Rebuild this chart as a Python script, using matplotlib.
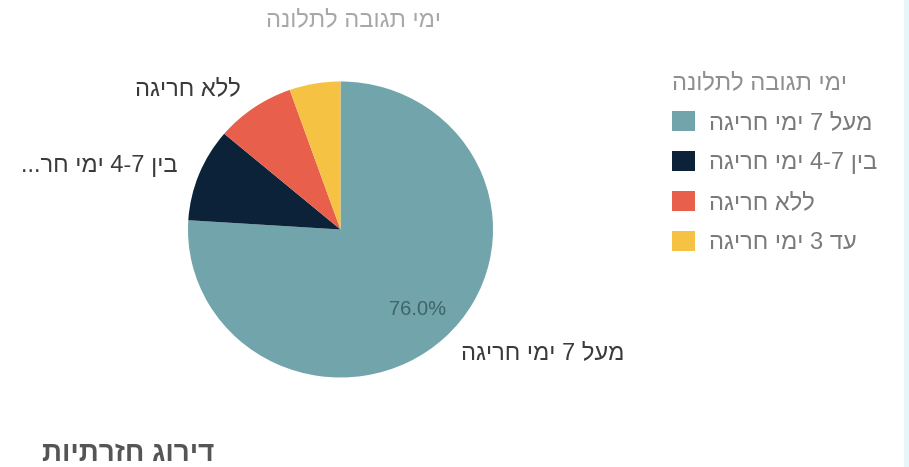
import re
import matplotlib
matplotlib.use("Agg")
import matplotlib.pyplot as plt
from matplotlib.patches import Rectangle

plt.rcParams['font.family'] = ['Liberation Sans', 'DejaVu Sans']

# ---- data ----
chart_title = "ימי תגובה לתלונה"
categories = ["מעל 7 ימי חריגה", "בין 4-7 ימי חריגה", "ללא חריגה", "עד 3 ימי חריגה"]
slice_labels = ["מעל 7 ימי חריגה", "בין 4-7 ימי חר...", "ללא חריגה", ""]
values = [76.0, 10.2, 8.4, 5.4]
colors = ["#72A5AB", "#0B2239", "#E8604C", "#F6C244"]
section_title = "דירוג חזרתיות"


def visual(s):
    """Convert logical-order Hebrew text to visual (LTR) order for rendering."""
    parts = re.findall(r'[0-9][0-9\-.%]*|[^0-9]+', s)
    out = []
    for p in reversed(parts):
        out.append(p if p[0].isdigit() else p[::-1])
    return ''.join(out)


W, H = 909, 467
fig = plt.figure(figsize=(W / 100, H / 100), dpi=100)
fig.patch.set_facecolor("white")

# pie axes placed in pixel terms
cx, cy = 340.5, 229.5
rx, ry = 152.5, 148.0
L = 1.6
aw, ah = 2 * L * rx, 2 * L * ry
ax = fig.add_axes([(cx - aw / 2) / W, (H - cy - ah / 2) / H, aw / W, ah / H])


def pct_fmt(p):
    return f"{p:.1f}%" if p > 50 else ""


wedges, texts, autotexts = ax.pie(
    values,
    labels=[visual(s) for s in slice_labels],
    colors=colors,
    startangle=90,
    counterclock=False,
    autopct=pct_fmt,
    pctdistance=0.74,
    labeldistance=1.15,
    wedgeprops=dict(linewidth=0),
    textprops=dict(fontsize=17, color="#3a3a3a"),
)
for t in autotexts:
    t.set_color("#3F6469")
    t.set_fontsize(14.5)
ax.set_xlim(-L, L)
ax.set_ylim(-L, L)
ax.set_aspect('auto')
ax.axis('off')

# chart title
fig.text(353 / W, 1 - 20 / H, visual(chart_title), ha='center', va='center',
         fontsize=17, color="#a8a8a8")

# legend
leg = fig.legend(
    wedges, [visual(c) for c in categories],
    loc='upper left', bbox_to_anchor=(672 / W, 1 - 72 / H),
    frameon=False, fontsize=17, borderpad=0, borderaxespad=0,
    handlelength=0.97, handleheight=0.95, handletextpad=0.6,
    labelspacing=0.71, title=visual(chart_title), title_fontsize=17,
    alignment='left', labelcolor="#7a7a7a",
)
leg.get_title().set_color("#8f8f8f")

# section heading at bottom
fig.text(42 / W, 1 - 454 / H, visual(section_title), ha='left', va='center',
         fontsize=20, color="#555555", fontweight='bold')

# light border strip at right edge
fig.patches.append(Rectangle((904 / W, 0), 5 / W, 1, transform=fig.transFigure,
                             facecolor="#E6F6FA", edgecolor='none'))

fig.savefig("out.png", dpi=100, facecolor="white")
